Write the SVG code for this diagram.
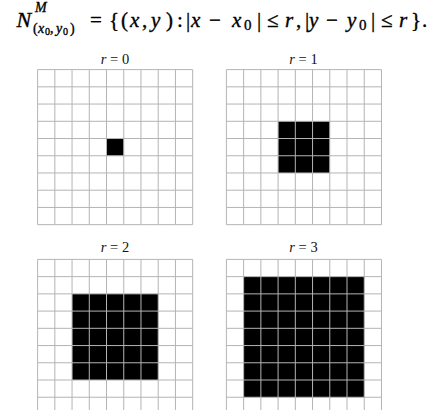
<svg xmlns="http://www.w3.org/2000/svg" width="432" height="410" viewBox="0 0 432 410">
<style>
text{font-family:'Liberation Serif','Times New Roman','DejaVu Serif',serif}
.f{fill:#000;stroke:#000;stroke-width:0.35}
.i{font-style:italic}
.lab{font-size:14.5px;fill:#111;text-anchor:middle}
.grid{stroke:#b4b4b4;stroke-width:1;fill:none}
.on{fill:#000}
</style>
<defs>
<g id="lines">
<path class="grid" d="M0,0H155.07M0,17.23H155.07M0,34.46H155.07M0,51.69H155.07M0,68.92H155.07M0,86.15H155.07M0,103.38H155.07M0,120.61H155.07M0,137.84H155.07M0,155.07H155.07M0,0V155.07M17.23,0V155.07M34.46,0V155.07M51.69,0V155.07M68.92,0V155.07M86.15,0V155.07M103.38,0V155.07M120.61,0V155.07M137.84,0V155.07M155.07,0V155.07"/>
</g>
</defs>
<rect width="432" height="410" fill="#fff"/>
<g id="formula">
<text class="f" font-size="22" y="26.5"><tspan class="i" x="16.5">N</tspan></text>
<text class="f i" font-size="14" x="35" y="12">M</text>
<text class="f" font-size="14" y="33"><tspan x="33">(</tspan><tspan class="i" x="38">x</tspan><tspan font-size="10" x="45" dy="2">0</tspan><tspan x="50" dy="-2">,</tspan><tspan class="i" x="56">y</tspan><tspan font-size="10" x="63" dy="2">0</tspan><tspan x="70" dy="-2">)</tspan></text>
<text class="f" font-size="21" y="26.5"><tspan x="90">=</tspan><tspan x="109">{</tspan><tspan x="121">(</tspan><tspan class="i" x="130">x</tspan><tspan x="142">,</tspan><tspan class="i" x="151">y</tspan><tspan x="166">)</tspan><tspan x="177">:</tspan><tspan x="186">|</tspan><tspan class="i" x="191">x</tspan><tspan x="209">−</tspan><tspan class="i" x="232">x</tspan><tspan font-size="15" x="244" dy="3">0</tspan><tspan x="257" dy="-3">|</tspan><tspan x="267">≤</tspan><tspan class="i" x="285">r</tspan><tspan x="296">,</tspan><tspan x="305">|</tspan><tspan class="i" x="309">y</tspan><tspan x="326">−</tspan><tspan class="i" x="347">y</tspan><tspan font-size="15" x="359" dy="3">0</tspan><tspan x="371" dy="-3">|</tspan><tspan x="381">≤</tspan><tspan class="i" x="399">r</tspan><tspan x="411">}</tspan><tspan x="422">.</tspan></text>
</g>
<g id="panel-r0">
<text class="lab" x="115" y="63.5"><tspan font-style="italic">r</tspan> = 0</text>
<g transform="translate(37.6,69.6)">
<rect class="on" x="68.92" y="68.92" width="17.23" height="17.23"/>
<use href="#lines"/>
</g>
</g>
<g id="panel-r1">
<text class="lab" x="303.5" y="63.5"><tspan font-style="italic">r</tspan> = 1</text>
<g transform="translate(226.4,69.6)">
<rect class="on" x="51.69" y="51.69" width="51.69" height="51.69"/>
<use href="#lines"/>
</g>
</g>
<g id="panel-r2">
<text class="lab" x="115" y="252.3"><tspan font-style="italic">r</tspan> = 2</text>
<g transform="translate(37.6,259.4)">
<rect class="on" x="34.46" y="34.46" width="86.15" height="86.15"/>
<use href="#lines"/>
</g>
</g>
<g id="panel-r3">
<text class="lab" x="303.5" y="252.3"><tspan font-style="italic">r</tspan> = 3</text>
<g transform="translate(226.4,259.4)">
<rect class="on" x="17.23" y="17.23" width="120.61" height="120.61"/>
<use href="#lines"/>
</g>
</g>
</svg>
